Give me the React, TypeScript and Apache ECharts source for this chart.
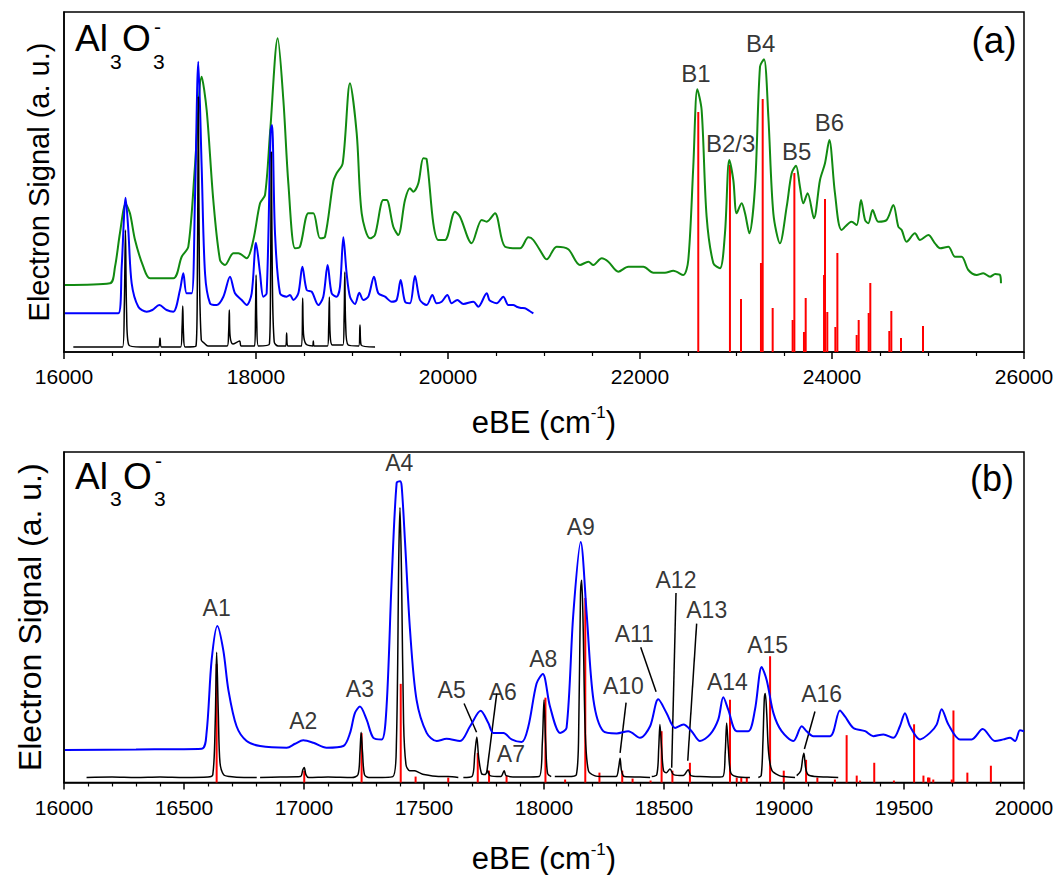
import React, { useEffect, useRef } from 'react';
import * as echarts from 'echarts';

// ---------- panel (a) ----------
const greenTop = [
  [16010,67],[16479,68.7],[16531,85],[16583,119],[16642,148],[16687,138.7],[16740,112],[16826,85.3],[16896,73.7],[17139,73.7],
  [17226,95.3],[17295,105.3],[17364,185.3],[17434,275.3],[17486,242],[17555,152],[17625,92],[17677,87],[17764,98.7],[17816,98.7],
  [17903,93.7],[17972,112],[18042,148.7],[18094,157],[18146,218.7],[18226,313.7],[18285,252],[18337,168.7],[18406,103.7],[18458,105.3],
  [18545,138.7],[18597,138.7],[18667,113.7],[18719,115.3],[18805,170.3],[18840,178.7],[18903,188.7],[18979,268.7],[19049,218.7],[19101,138.7],
  [19187,113.7],[19239,117],[19326,152],[19361,152],[19430,125.3],[19482,117],[19552,152],[19604,163.7],[19639,160.3],[19691,168.7],
  [19743,193.7],[19778,192.7],[19847,128.7],[19899,112],[19969,112],[20073,140.3],[20125,135.3],[20246,108.7],[20351,132],[20403,130.3],
  [20489,138.7],[20594,105.3],[20750,103.7],[20837,114.7],[20889,112],[21010,93.7],[21028,92.7],[21132,105.3],[21253,102.7],[21375,87],
  [21462,90.3],[21514,87],[21601,93.7],[21670,90.3],[21774,80.3],[21878,85.3],[22035,85.3],[22139,79.3],[22260,79.3],[22347,81.3],
  [22451,77],[22503,92],[22555,185.3],[22597,262.7],[22642,242],[22694,135.3],[22764,88.7],[22833,83.7],[22885,118.7],[22930,192],
  [22972,172],[23007,138.7],[23059,148.7],[23094,138.7],[23139,118.7],[23198,165.3],[23250,285.3],[23292,292.7],[23337,235.3],[23389,138.7],
  [23458,108.7],[23528,145.3],[23580,178.7],[23625,186.3],[23666,165.3],[23701,148.7],[23746,158.7],[23812,133.7],[23875,172],[23927,188.7],
  [23972,212],[24031,158.7],[24100,122],[24204,130.3],[24257,127],[24302,152],[24344,132],[24378,128.7],[24423,142],[24482,130.3],
  [24569,132],[24639,147],[24691,125.3],[24726,122],[24777,110.3],[24864,118.7],[24916,112],[25003,117],[25073,108.7],[25125,103.7],
  [25212,105.3],[25281,95.3],[25350,95.3],[25420,82],[25507,77],[25576,78.7],[25646,75.3],[25700,78],[25750,77],[25760,68.7]
];

const blueTop = [
  [16010,38.7],[16300,38.7],[16566,38.7],[16601,85.3],[16642,154.3],[16670,122],[16705,68.7],[16774,45.3],[16861,40.3],[16920,42],
  [16993,47],[17069,42],[17139,40.3],[17208,62],[17243,78.7],[17278,58.7],[17330,58.7],[17364,152],[17399,290.3],[17434,185.3],
  [17469,78.7],[17521,48.7],[17590,47],[17660,55.3],[17729,75.3],[17781,58.7],[17851,52],[17903,47],[17955,58.7],[18000,109.3],
  [18042,78.7],[18076,55.3],[18111,58.7],[18153,222],[18167,227],[18198,118.7],[18250,58.7],[18319,55.3],[18354,57],[18389,52],
  [18441,58.7],[18483,85.3],[18528,62],[18580,60.3],[18649,47],[18701,55.3],[18746,87],[18788,58.7],[18840,55.3],[18875,65.3],
  [18910,114.7],[18944,78.7],[18979,55.3],[19031,48],[19076,59.3],[19118,52],[19170,55.3],[19229,75.3],[19274,58.7],[19344,55.3],
  [19413,50.3],[19465,52],[19507,72],[19552,50.3],[19604,48.7],[19656,76],[19708,52],[19778,47],[19837,57],[19882,48.7],
  [19934,50.3],[19993,57],[20038,48.7],[20097,52],[20160,48],[20264,50.3],[20316,45.3],[20403,58.7],[20430,52],[20455,50.3],
  [20507,48.7],[20576,55.3],[20628,47],[20680,47],[20715,45.3],[20760,44],[20802,43.7],[20850,41],[20889,38.7]
];

const blackTop = [
  [16097,5],[16300,5],[16500,5],[16610,5],[16628,45],[16640,122],[16652,40],[16675,7],[16800,5],[16985,5],
  [17000,14],[17015,5],[17215,5],[17230,25],[17237,46],[17245,18],[17262,5],[17375,6],[17390,90],[17400,255],
  [17410,85],[17430,12],[17460,9],[17500,6],[17700,6],[17715,20],[17722,42],[17730,16],[17760,8],[17830,11],
  [17845,6],[17985,6],[17995,40],[18001,77],[18008,30],[18025,6],[18140,8],[18152,80],[18160,200],[18170,75],
  [18190,10],[18230,6],[18310,6],[18319,19],[18330,6],[18440,6],[18475,6],[18486,54],[18495,18],[18520,8],
  [18590,6],[18597,11],[18605,6],[18745,6],[18757,25],[18764,55],[18772,18],[18795,7],[18905,7],[18918,35],
  [18925,80],[18934,28],[18960,7],[19070,6],[19083,27],[19095,7],[19240,5]
];

const sticksTop = [
  [22607,240],[22937,187],[23052,53],[23260,89],[23278,253],[23382,44],[23590,32],[23608,179],[23708,20],[23726,54],
  [23917,77],[23927,153],[23951,40],[24035,25],[24056,99],[24257,17],[24278,32],[24382,39],[24399,69],[24597,21],
  [24618,41],[24719,14],[24948,26]
];

const bandLabelsTop = [
  ['B1',22583,279],['B2/3',22944,209],['B4',23257,309],['B5',23632,201],['B6',23972,230]
];

// ---------- panel (b) ----------
const blueBottom = [
  [16004,33],[16300,33.5],[16574,34.3],[16594,50.3],[16615,123.7],[16639,158.7],[16664,133.7],[16685,93.7],[16719,57],[16761,42],
  [16817,37],[16928,35.3],[16963,39.3],[16997,42.7],[17039,40.3],[17094,35.3],[17164,37],[17192,50.3],[17212,70.3],[17233,77],
  [17261,63.7],[17289,45.3],[17324,43.7],[17344,77],[17365,203.7],[17386,303.7],[17400,305.3],[17407,300.3],[17421,243.7],[17442,153.7],
  [17469,83.7],[17511,50.3],[17553,42],[17594,44.3],[17650,42],[17692,57],[17736,72.7],[17768,60.3],[17789,50.3],[17831,50.3],
  [17865,43.7],[17907,41],[17935,57],[17969,100.3],[17995,110],[18025,77],[18067,50.3],[18094,55.3],[18122,170.3],[18153,243.7],
  [18178,170.3],[18206,83.7],[18247,52],[18303,49.7],[18351,52],[18400,45.3],[18442,57],[18476,84.3],[18511,70.3],[18546,55.3],
  [18581,58.7],[18615,52],[18650,42],[18692,48.7],[18726,63.7],[18747,86.3],[18768,73.7],[18803,52],[18851,52],[18879,73.7],
  [18907,117],[18928,103.7],[18956,70.3],[18990,52],[19039,42],[19074,57],[19094,52],[19122,47],[19192,47],[19233,73],
  [19254,67],[19289,55.3],[19338,52],[19372,47],[19414,48.7],[19456,45.3],[19483,57],[19504,70.3],[19525,57],[19567,43.7],
  [19608,50.3],[19636,58.7],[19657,74.3],[19685,58.7],[19733,43.7],[19782,43.7],[19828,54.3],[19879,42],[19914,43.7],[19942,45.3],
  [19963,42],[19983,53],[20000,52]
];

const blackBottom = [
  [16094,5],[16200,5.5],[16300,5],[16400,5.5],[16500,5],[16600,5.5],[16620,8],[16630,60],[16636,132],[16643,70],
  [16650,20],[16665,8],[16690,6],[16750,5],[16803,5],'-',
  [16817,5],[16900,5.5],[16985,6],[16995,13],[17001,15.3],[17008,8],[17020,5],[17100,5.5],[17200,5],[17225,8],
  [17233,30],[17238,51],[17244,30],[17252,8],[17270,5],[17370,6],[17385,40],[17395,230],[17400,278.7],[17407,200],
  [17415,60],[17425,18],[17440,12],[17460,12],[17480,10],[17500,8],[17560,6],[17600,6],[17643,5],'-',
  [17664,5],[17700,6],[17712,30],[17720,46],[17728,25],[17740,9],[17755,8],[17765,12],[17775,7],[17820,6],
  [17834,12],[17842,7],[17900,5.5],[17980,6],[17993,40],[18000,83.7],[18007,40],[18015,9],[18030,6],'-',
  [18045,6],[18100,6],[18135,8],[18145,60],[18152,190],[18157,205],[18163,160],[18172,50],[18185,12],[18210,7],
  [18250,6],[18300,6],[18311,15],[18317,24.7],[18323,12],[18335,6],[18400,5.5],[18442,5],'-',
  [18449,6],[18470,8],[18478,35],[18483,58.7],[18490,35],[18498,12],[18510,10],[18525,13.7],[18540,8],[18580,7],
  [18601,13],[18612,7],[18650,6],[18700,5.5],[18745,6],[18755,30],[18761,60.3],[18768,35],[18778,10],[18800,6],
  [18858,5],'-',
  [18893,5],[18905,7],[18912,40],[18918,85],[18922,90.3],[18928,70],[18936,30],[18950,12],[18980,7],[19000,6],
  [19046,5],'-',
  [19053,7],[19070,12],[19078,25],[19083,29.7],[19090,15],[19100,8],[19130,6],[19180,5.5],[19226,5]
];

const sticksBottom = [
  [16636,120],[17001,12],[17240,50],[17403,100],[17465,6],[17601,5],[17724,30],[17771,12],[17844,7],[18006,86],
  [18088,3],[18172,187],[18231,10],[18326,12],[18369,4],[18444,2],[18490,52],[18535,12],[18608,20],[18775,84],
  [18803,5],[18822,5],[18845,5],[18942,128],[18999,12],[19092,23],[19139,5],[19212,3],[19261,48],[19303,7],
  [19317,2],[19376,20],[19458,2],[19542,59],[19581,7],[19600,5],[19606,5],[19622,3],[19699,3],[19706,73],
  [19764,10],[19862,17]
];

const peakLabelsBottom = [
  ['A1',16636,177],['A2',16997,62],['A3',17233,95],['A4',17397,324],['A5',17615,94],['A6',17828,92],['A7',17862,29],
  ['A8',17997,125],['A9',18153,259],['A10',18331,98],['A11',18376,151],['A12',18550,205],['A13',18678,175],
  ['A14',18764,102],['A15',18932,139],['A16',19157,90]
];

const leadersBottom = [
  [17667,80,17719,51],[17803,90,17761,9],[18342,81,18317,30],[18403,137,18467,92],
  [18550,192,18532,15],[18636,161,18599,22],[19129,72,19085,34]
];

const FONT = 'Arial, "Liberation Sans", sans-serif';
const GREEN = '#118a11';
const BLUE = '#0000ff';
const RED = '#ff0000';

function stickSeries(data: number[][], idx: number) {
  return {
    type: 'custom',
    xAxisIndex: idx,
    yAxisIndex: idx,
    silent: true,
    data,
    encode: { x: 0, y: 1 },
    renderItem: (_p: any, api: any) => {
      const a = api.coord([api.value(0), 0]);
      const b = api.coord([api.value(0), api.value(1)]);
      return { type: 'line', shape: { x1: a[0], y1: a[1], x2: b[0], y2: b[1] }, style: { stroke: RED, lineWidth: 2 } };
    },
  };
}

function lineSeries(data: any[], idx: number, color: string, width: number) {
  return {
    type: 'line', xAxisIndex: idx, yAxisIndex: idx, data, showSymbol: false, symbol: 'none', silent: true,
    smooth: 0.3, lineStyle: { color, width }, connectNulls: false,
  };
}

function labelSeries(items: any[], idx: number, fs: number) {
  return {
    type: 'scatter', xAxisIndex: idx, yAxisIndex: idx, symbolSize: 0, silent: true,
    data: items.map((d) => ({ name: d[0], value: [d[1], d[2]] })),
    label: { show: true, position: 'inside', formatter: '{b}', color: '#000', fontSize: fs, fontFamily: FONT },
  };
}

function xAxisCfg(idx: number, min: number, max: number, interval: number, minorSplit: number) {
  return {
    type: 'value', gridIndex: idx, min, max, interval,
    axisLine: { show: true, onZero: false, lineStyle: { color: '#000', width: 1.5 } },
    axisTick: { show: true, inside: false, length: 7, lineStyle: { color: '#000', width: 1.5 } },
    minorTick: { show: true, splitNumber: minorSplit, length: 4, lineStyle: { color: '#000', width: 1.2 } },
    splitLine: { show: false },
    axisLabel: { color: '#000', fontSize: 21, fontFamily: FONT, margin: 14, formatter: (v: number) => String(v) },
    name: '{n|eBE (cm}{s|-1}{n|)}',
    nameLocation: 'middle',
    nameGap: idx === 0 ? 52 : 58,
    nameTextStyle: {
      rich: {
        n: { fontSize: 31, fontFamily: FONT, color: '#000', lineHeight: 36 },
        s: { fontSize: 17, fontFamily: FONT, color: '#000', lineHeight: 17, verticalAlign: 'top' },
      },
    },
  };
}

function yAxisCfg(idx: number, max: number, fs: number, gap: number) {
  return {
    type: 'value', gridIndex: idx, min: 0, max,
    axisLine: { show: true, lineStyle: { color: '#000', width: 1.5 } },
    axisTick: { show: false }, axisLabel: { show: false }, splitLine: { show: false },
    name: 'Electron Signal (a. u.)', nameLocation: 'middle', nameGap: gap,
    nameTextStyle: { fontSize: fs, fontFamily: FONT, color: '#000' },
  };
}

function txt(text: string, x: number, y: number, size: number, align = 'left') {
  return { type: 'text', x, y, silent: true, style: { text, fontSize: size, fontFamily: FONT, fill: '#000', align, verticalAlign: 'middle' } };
}

export default function App() {
  const ref = useRef<HTMLDivElement>(null);
  useEffect(() => {
    document.body.style.margin = '0';
    const chart = echarts.init(ref.current as HTMLDivElement, null, { renderer: 'svg' });
    chart.setOption({
      animation: false,
      backgroundColor: '#fff',
      grid: [
        { left: 64, top: 12, width: 960, height: 340, show: true, borderColor: '#000', borderWidth: 1.5 },
        { left: 64, top: 452, width: 960, height: 335, show: true, borderColor: '#000', borderWidth: 1.5 },
      ],
      xAxis: [xAxisCfg(0, 16000, 26000, 2000, 4), xAxisCfg(1, 16000, 20000, 500, 5)],
      yAxis: [yAxisCfg(0, 340, 29, 11), yAxisCfg(1, 335, 32, 18)],
      series: [
        lineSeries(greenTop, 0, GREEN, 2),
        lineSeries(blueTop, 0, BLUE, 2),
        stickSeries(sticksTop, 0),
        lineSeries(blackTop, 0, '#000', 1.5),
        labelSeries(bandLabelsTop, 0, 24),
        lineSeries(blueBottom, 1, BLUE, 2),
        stickSeries(sticksBottom, 1),
        lineSeries(blackBottom, 1, '#000', 1.5),
        labelSeries(peakLabelsBottom, 1, 23),
        {
          type: 'custom', xAxisIndex: 1, yAxisIndex: 1, silent: true, data: leadersBottom,
          encode: { x: [0, 2], y: [1, 3] },
          renderItem: (_p: any, api: any) => {
            const a = api.coord([api.value(0), api.value(1)]);
            const b = api.coord([api.value(2), api.value(3)]);
            return { type: 'line', shape: { x1: a[0], y1: a[1], x2: b[0], y2: b[1] }, style: { stroke: '#000', lineWidth: 1.5 } };
          },
        },
      ],
      graphic: [
        txt('Al', 75, 38, 37), txt('3', 110, 61, 21), txt('O', 122, 38, 37), txt('3', 153, 61, 21), txt('-', 154, 26, 21),
        txt('(a)', 994, 40, 37, 'center'),
        txt('Al', 75, 476, 37), txt('3', 110, 498, 21), txt('O', 123, 476, 37), txt('3', 154, 498, 21), txt('-', 155, 460, 21),
        txt('(b)', 992, 478, 36, 'center'),
      ],
    });
    return () => chart.dispose();
  }, []);
  return <div ref={ref} style={{ width: 1060, height: 875 }} />;
}
